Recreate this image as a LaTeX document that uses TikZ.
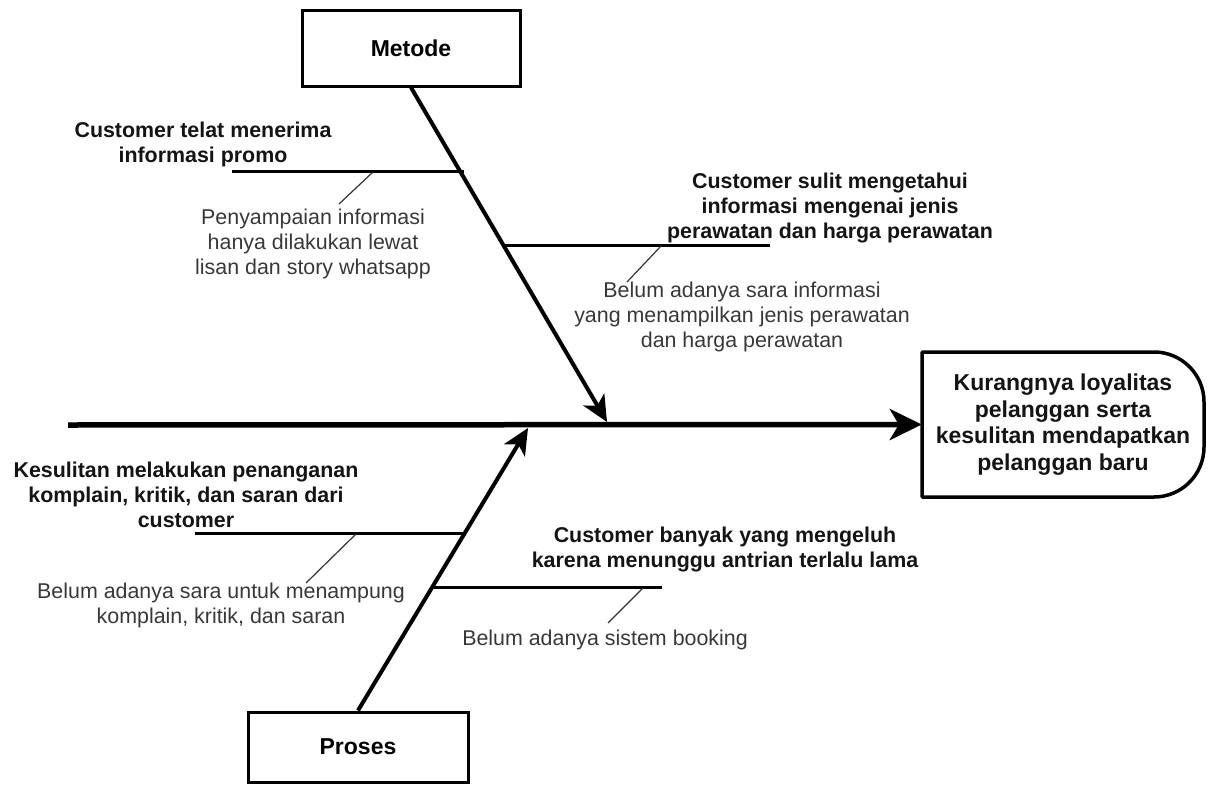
\documentclass[tikz,border=0pt]{standalone}
\usepackage{fontspec}
\setmainfont{Liberation Sans}
\usetikzlibrary{arrows.meta,calc}
\begin{document}
\begin{tikzpicture}[x=1pt,y=-1pt,
  causebox/.style={draw, line width=3pt, minimum width=218pt, minimum height=75pt, inner sep=0pt,
    font=\bfseries\fontsize{23}{27}\selectfont},
  cause/.style={align=center, inner sep=0pt, anchor=north, text=black!92,
    font=\bfseries\fontsize{21.4}{25}\selectfont},
  sub/.style={align=center, inner sep=0pt, anchor=north, text=black!78,
    font=\fontsize{21.4}{25}\selectfont},
  spine/.style={line width=5.5pt, -{Stealth[length=32pt,width=31pt,inset=9pt]}},
  bone/.style={line width=4pt, -{Stealth[length=26pt,width=24pt,inset=7pt]}},
  twig/.style={line width=3pt},
  leaf/.style={line width=1.2pt, draw=black!80}]
\useasboundingbox (0,0) rectangle (1209,784);

% category boxes
\node[causebox] (metode) at (411,48.5) {Metode};
\node[causebox, minimum width=220pt, minimum height=70pt] (proses) at (358,747) {Proses};

% effect
\node[inner sep=0pt, minimum width=282pt, minimum height=145pt, align=center,
      font=\bfseries\fontsize{23}{26.5}\selectfont, text=black!92] (effect) at (1063,424.5)
      {Kurangnya loyalitas\\pelanggan serta\\kesulitan mendapatkan\\pelanggan baru};
\draw[line width=3.5pt, line join=round]
  (922,352) -- (1154,352) .. controls (1181.6,352) and (1204,374.4) .. (1204,402)
  -- (1204,447) .. controls (1204,474.6) and (1181.6,497) .. (1154,497)
  -- (922,497) -- cycle;

% spine and bones
\coordinate (tail) at (68,425);
\coordinate (mtip) at (607,422);
\coordinate (ptip) at (528,428);
\draw[spine] (tail) -- (effect.west);
\draw[bone] (metode.south) -- (mtip);
\draw[bone] (proses.north) -- (ptip);

% labels
\node[cause] (c1) at (203,122) {Customer telat menerima\\informasi promo};
\node[sub]   (s1) at (313,209) {Penyampaian informasi\\hanya dilakukan lewat\\lisan dan story whatsapp};
\node[cause] (c2) at (830,173) {Customer sulit mengetahui\\informasi mengenai jenis\\perawatan dan harga perawatan};
\node[sub]   (s2) at (742,282) {Belum adanya sara informasi\\yang menampilkan jenis perawatan\\dan harga perawatan};
\node[cause] (c3) at (186,462) {Kesulitan melakukan penanganan\\komplain, kritik, dan saran dari\\customer};
\node[sub]   (s3) at (221,583) {Belum adanya sara untuk menampung\\komplain, kritik, dan saran};
\node[cause] (c4) at (725,527) {Customer banyak yang mengeluh\\karena menunggu antrian terlalu lama};
\node[sub]   (s4) at (605,630) {Belum adanya sistem booking};

% twigs
\coordinate (t1a) at (232,171); \coordinate (t1b) at (464,171);
\coordinate (t2a) at (503,245); \coordinate (t2b) at (770,245);
\coordinate (t3a) at (195,533); \coordinate (t3b) at (466,533);
\coordinate (t4a) at (431,587); \coordinate (t4b) at (662,587);
\draw[twig] (t1a) -- (t1b);
\draw[twig] (t2a) -- (t2b);
\draw[twig] (t3a) -- (t3b);
\draw[twig] (t4a) -- (t4b);

% leaves
\coordinate (l1a) at (373,172); \coordinate (l1b) at (339,204);
\coordinate (l2a) at (661,246); \coordinate (l2b) at (627,282);
\coordinate (l3a) at (356,534); \coordinate (l3b) at (306,583);
\coordinate (l4a) at (643,588); \coordinate (l4b) at (608,623);
\draw[leaf] (l1a) -- (l1b);
\draw[leaf] (l2a) -- (l2b);
\draw[leaf] (l3a) -- (l3b);
\draw[leaf] (l4a) -- (l4b);
\end{tikzpicture}
\end{document}
